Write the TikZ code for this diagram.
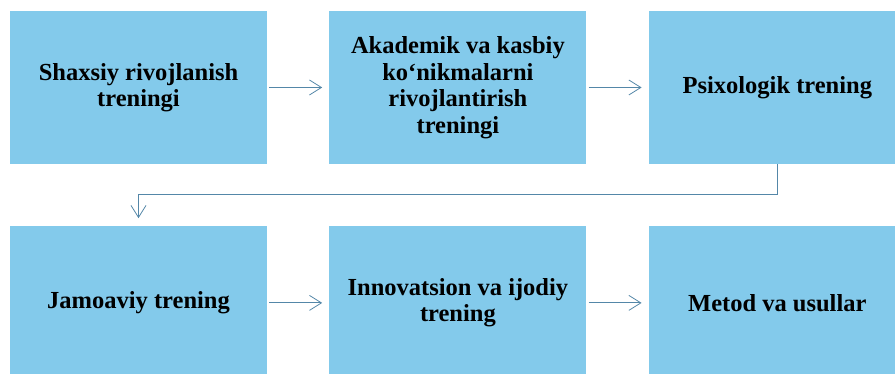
\documentclass[tikz,border=0pt]{standalone}
\usepackage{fontspec}
\setmainfont{Liberation Serif}
\usetikzlibrary{positioning,arrows.meta}
\definecolor{boxblue}{RGB}{131,202,235}
\definecolor{linkblue}{RGB}{84,135,168}

\begin{document}
\begin{tikzpicture}[%
      x=1pt, y=1pt,
      node distance=62pt,
      box/.style={fill=boxblue, draw=none, minimum width=257pt, minimum height=153pt,
        inner sep=0pt, align=center, font=\fontsize{24.5}{26.5}\selectfont\bfseries},
      link/.style={color=linkblue, line width=0.8pt,
        -{Straight Barb[length=12pt,width=15pt,line width=0.8pt]}},
      ]
      \useasboundingbox (0,0) rectangle (895,374);
      \clip (0,0) rectangle (895,374);

      \node [box] (shaxsiy) at (138.5,286.5) {Shaxsiy rivojlanish\\treningi};
      \node [box, right=of shaxsiy] (akadem) {Akademik va kasbiy\\ko‘nikmalarni\\rivojlantirish\\treningi};
      \node [box, right=of akadem] (psix) {Psixologik trening};

      \node [box, below=of shaxsiy] (jamoa) {Jamoaviy trening};
      \node [box, right=of jamoa] (innov) {Innovatsion va ijodiy\\trening};
      \node [box, right=of innov] (metod) {Metod va usullar};

      \draw [link, shorten <=2pt, shorten >=7pt] (shaxsiy) -- (akadem);
      \draw [link, shorten <=2pt, shorten >=7pt] (akadem) -- (psix);
      \draw [link, shorten <=2pt, shorten >=7pt] (jamoa) -- (innov);
      \draw [link, shorten <=2pt, shorten >=7pt] (innov) -- (metod);

      \draw [link, shorten >=8pt] (psix.south) -- ++(0,-30) -| (jamoa.north);
      \end{tikzpicture}
\end{document}
